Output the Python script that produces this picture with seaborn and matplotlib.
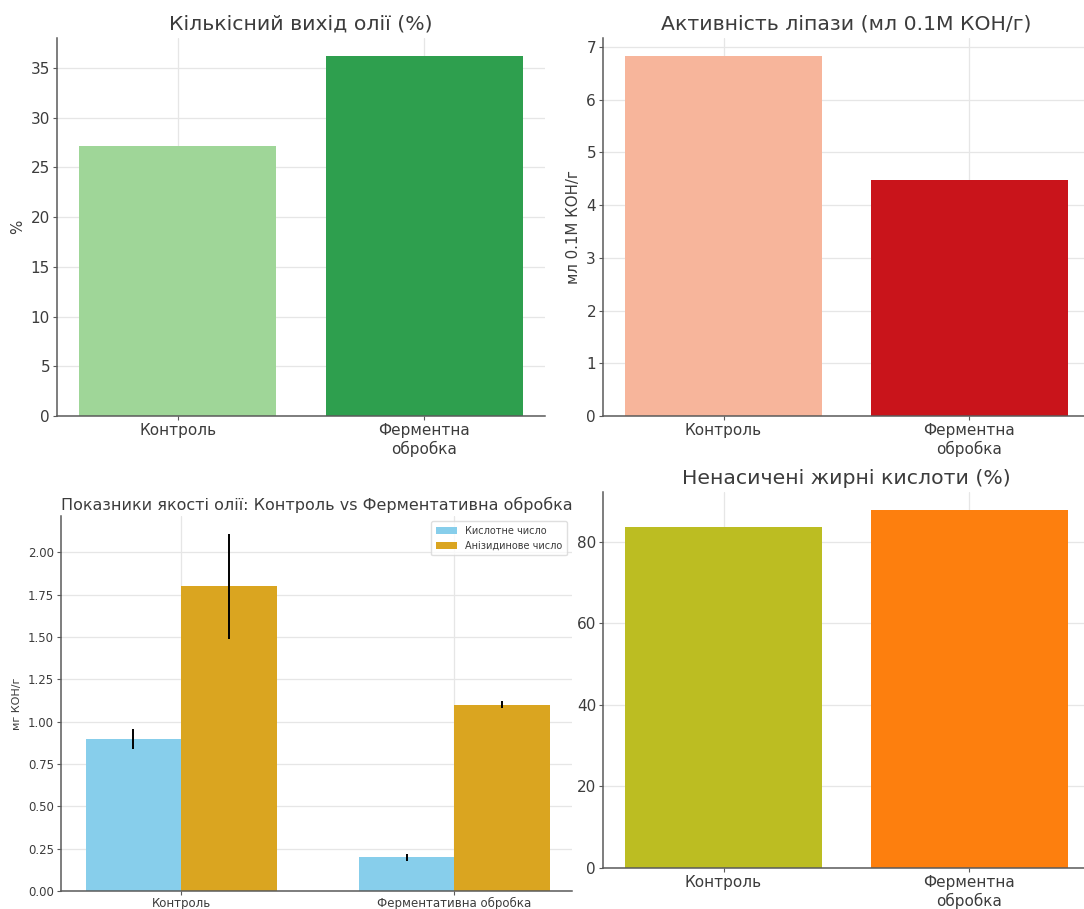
import matplotlib
matplotlib.use("Agg")
import matplotlib.pyplot as plt
import pandas as pd
import seaborn as sns

# Two-group comparisons
groups = ["Контроль", "Ферментна\nобробка"]
oil_yield = [27.1, 36.2]          # %
lipase_activity = [6.83, 4.47]    # мл 0.1М КОН/г
unsaturated_fa = [83.6, 87.8]     # %

# Oil quality indicators (mean ± error)
quality_groups = ["Контроль", "Ферментативна обробка"]
quality_metrics = ["Кислотне число", "Анізидинове число"]
acid_value = [0.90, 0.20]
acid_err = [0.06, 0.02]
anisidine_value = [1.80, 1.10]
anisidine_err = [0.31, 0.02]

sns.set_theme(style="whitegrid")
plt.rcParams["font.family"] = ["DejaVu Sans"]

TEXT = "#3c3c3c"
SPINE = "#5a5a5a"
GRID = "#e6e6e6"

W, H = 1084, 909
fig = plt.figure(figsize=(W / 100, H / 100), dpi=100)
fig.patch.set_facecolor("white")


def px_axes(left, right, top, bottom):
    return fig.add_axes([left / W, (H - bottom) / H, (right - left) / W, (bottom - top) / H])


def style_axes(ax, labelsize, xpad=2):
    ax.set_facecolor("white")
    ax.grid(True, axis="both", color=GRID, linewidth=0.9)
    ax.set_axisbelow(True)
    for side in ("top", "right"):
        ax.spines[side].set_visible(False)
    for side in ("left", "bottom"):
        ax.spines[side].set_visible(True)
        ax.spines[side].set_color(SPINE)
        ax.spines[side].set_linewidth(1.1)
    ax.tick_params(axis="both", left=True, bottom=True, length=3, width=0.8,
                   color=SPINE, labelsize=labelsize, labelcolor=TEXT, pad=2)
    ax.tick_params(axis="x", pad=xpad)


def simple_bar(ax, values, colors, title, ylabel):
    sns.barplot(x=groups, y=values, hue=groups, palette=colors, legend=False,
                ax=ax, width=0.8, saturation=1, linewidth=0)
    ax.set_xlim(-0.49, 1.49)
    style_axes(ax, 11)
    ax.set_title(title, fontsize=14.7, color=TEXT, pad=6)
    ax.set_xlabel("")
    ax.set_ylabel(ylabel, fontsize=10.8, color=TEXT, labelpad=4)


ax1 = px_axes(57, 545, 38, 416)
simple_bar(ax1, oil_yield, ["#9fd698", "#2e9f4e"], "Кількісний вихід олії (%)", "%")

ax2 = px_axes(603, 1090, 38, 416)
simple_bar(ax2, lipase_activity, ["#f7b59b", "#c9141b"],
           "Активність ліпази (мл 0.1М КОН/г)", "мл 0.1М КОН/г")

ax4 = px_axes(603, 1090, 492, 868)
simple_bar(ax4, unsaturated_fa, ["#bcbd22", "#fd7f0e"], "Ненасичені жирні кислоти (%)", "")

# Grouped quality chart with error bars
quality = pd.DataFrame({
    "group": quality_groups * 2,
    "metric": [quality_metrics[0]] * 2 + [quality_metrics[1]] * 2,
    "value": acid_value + anisidine_value,
    "err": acid_err + anisidine_err,
})

ax3 = px_axes(61, 572, 516, 891)
sns.barplot(data=quality, x="group", y="value", hue="metric",
            palette=["#87ceeb", "#daa520"], errorbar=None, width=0.7,
            saturation=1, linewidth=0, ax=ax3)
for container, metric in zip(ax3.containers, quality_metrics):
    sub = quality[quality["metric"] == metric]
    xs = [bar.get_x() + bar.get_width() / 2 for bar in container]
    ax3.errorbar(xs, sub["value"].values, yerr=sub["err"].values, fmt="none",
                 ecolor="black", elinewidth=1.4, capsize=0)
ax3.set_xlim(-0.44, 1.43)
style_axes(ax3, 8.5, xpad=1)
ax3.set_title("Показники якості олії: Контроль vs Ферментативна обробка",
              fontsize=11.5, color=TEXT, pad=4)
ax3.set_xlabel("")
ax3.set_ylabel("мг КОН/г", fontsize=8, color=TEXT, labelpad=4)
leg = ax3.legend(loc="upper right", fontsize=7, frameon=True, title=None,
                 borderpad=0.5, handlelength=2.2)
leg.get_frame().set_edgecolor("#d8d8d8")
for t in leg.get_texts():
    t.set_color(TEXT)

fig.savefig("out.png", dpi=100)
